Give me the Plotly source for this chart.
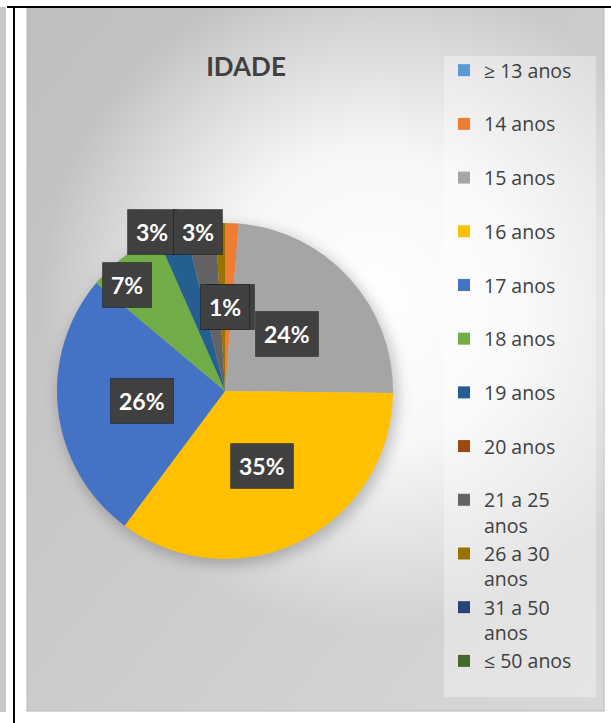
import math
import urllib.parse
import plotly.graph_objects as go

# ---------------- data ----------------
categories = ["≥ 13 anos", "14 anos", "15 anos", "16 anos", "17 anos", "18 anos",
              "19 anos", "20 anos", "21 a 25<br>anos", "26 a 30<br>anos",
              "31 a 50<br>anos", "≤ 50 anos"]
values = [0, 1.3, 23.9, 35.0, 25.9, 7.3, 2.8, 0, 2.9, 0.9, 0, 0]
title_text = "IDADE"

# ---------------- style ----------------
colors = ["#5B9BD5", "#ED7D31", "#A5A5A5", "#FFC000", "#4472C4", "#70AD47",
          "#255E91", "#9E480E", "#636363", "#997300", "#264478", "#43682B"]
W, H = 611, 723
CX, CY, R = 225, 391, 168          # pie centre / radius in px
# per-slice label placement (radius fraction, angle tweak in degrees)
label_place = {1: (0.5, 1.0), 2: (0.5, 0), 3: (0.5, 0), 4: (0.5, 0),
               5: (0.86, -6), 6: (1.04, -6), 8: (0.96, -1), 9: (0.5, 1.3)}

legend_labels = [c if "<br>" in c else c + "<br>\u00a0" for c in categories]

fig = go.Figure()
fig.add_trace(go.Pie(
    labels=legend_labels, values=values, sort=False, direction="clockwise",
    rotation=0, textinfo="none", hoverinfo="label+percent",
    marker=dict(colors=colors, line=dict(width=0)),
    domain=dict(x=[(CX - R) / W, (CX + R) / W],
                y=[1 - (CY + R) / H, 1 - (CY - R) / H]),
    showlegend=True,
))

# ---------------- data labels (computed from the values) ----------------
total = sum(values)
annotations = []
cum = 0.0
for i, v in enumerate(values):
    start = cum
    cum += v
    if v <= 0 or i not in label_place:
        continue
    frac, dang = label_place[i]
    mid = (start + v / 2) / total * 360 + dang
    px = CX + R * frac * math.sin(math.radians(mid))
    py = CY - R * frac * math.cos(math.radians(mid))
    txt = f"<b>{round(v / total * 100):d}%</b>"
    annotations.append(dict(text=txt, x=px / W, y=1 - py / H, xref="paper", yref="paper",
                            showarrow=False, borderpad=8, xanchor="center", yanchor="middle",
                            font=dict(family="Lato", size=23, color="white"),
                            bgcolor="#404040", bordercolor="rgba(0,0,0,0.35)", borderwidth=1))

# ---------------- background (SVG) ----------------
svg = f'''<svg xmlns="http://www.w3.org/2000/svg" width="{W}" height="{H}" viewBox="0 0 {W} {H}">
<defs>
<linearGradient id="lg" x1="0" y1="0" x2="1" y2="1">
<stop offset="0" stop-color="#bfbfbf"/><stop offset="1" stop-color="#d8d8d8"/>
</linearGradient>
<radialGradient id="rg" gradientUnits="userSpaceOnUse" cx="370" cy="300" r="330">
<stop offset="0" stop-color="#ffffff" stop-opacity="1"/>
<stop offset="0.45" stop-color="#ffffff" stop-opacity="0.85"/>
<stop offset="1" stop-color="#ffffff" stop-opacity="0"/>
</radialGradient>
<filter id="blur" x="-30%" y="-30%" width="160%" height="160%"><feGaussianBlur stdDeviation="7"/></filter>
</defs>
<rect x="0" y="0" width="{W}" height="{H}" fill="#ffffff"/>
<rect x="0" y="7" width="6" height="705" fill="#c8c8c8"/>
<rect x="27" y="7" width="577" height="704" fill="url(#lg)" stroke="#b8b8b8" stroke-width="1"/>
<rect x="27" y="7" width="577" height="704" fill="url(#rg)"/>
<circle cx="{CX + 3}" cy="{CY + 5}" r="{R + 2}" fill="rgba(0,0,0,0.22)" filter="url(#blur)"/>
<rect x="444" y="56" width="152" height="641" fill="rgba(255,255,255,0.35)"/>
<rect x="7" y="6" width="{W - 7}" height="2" fill="#000000"/>
<rect x="13" y="6" width="2" height="{H - 6}" fill="#000000"/>
</svg>'''
bg_src = "data:image/svg+xml;charset=utf-8," + urllib.parse.quote(svg)

fig.update_layout(
    width=W, height=H, autosize=False,
    margin=dict(l=0, r=0, t=0, b=0),
    paper_bgcolor="white", plot_bgcolor="rgba(0,0,0,0)",
    font=dict(family="Lato", color="#404040"),
    title=dict(text=f"<b>{title_text}</b>", x=246 / W, xanchor="center",
               y=1 - 67 / H, yanchor="middle", yref="container",
               font=dict(family="Lato", size=26, color="#404040")),
    legend=dict(x=444 / W, xanchor="left", y=1 - 51 / H, yanchor="top",
                bgcolor="rgba(0,0,0,0)", font=dict(family="Open Sans", size=19.5, color="#404040"),
                valign="top", traceorder="normal"),
    images=[dict(source=bg_src, xref="paper", yref="paper", x=0, y=1, sizex=1, sizey=1,
                 xanchor="left", yanchor="top", sizing="stretch", layer="below")],
    annotations=annotations,
)

fig.write_html("out.html", config={"displayModeBar": False},
               post_script="document.body.style.margin='0';document.body.style.overflow='hidden';")
